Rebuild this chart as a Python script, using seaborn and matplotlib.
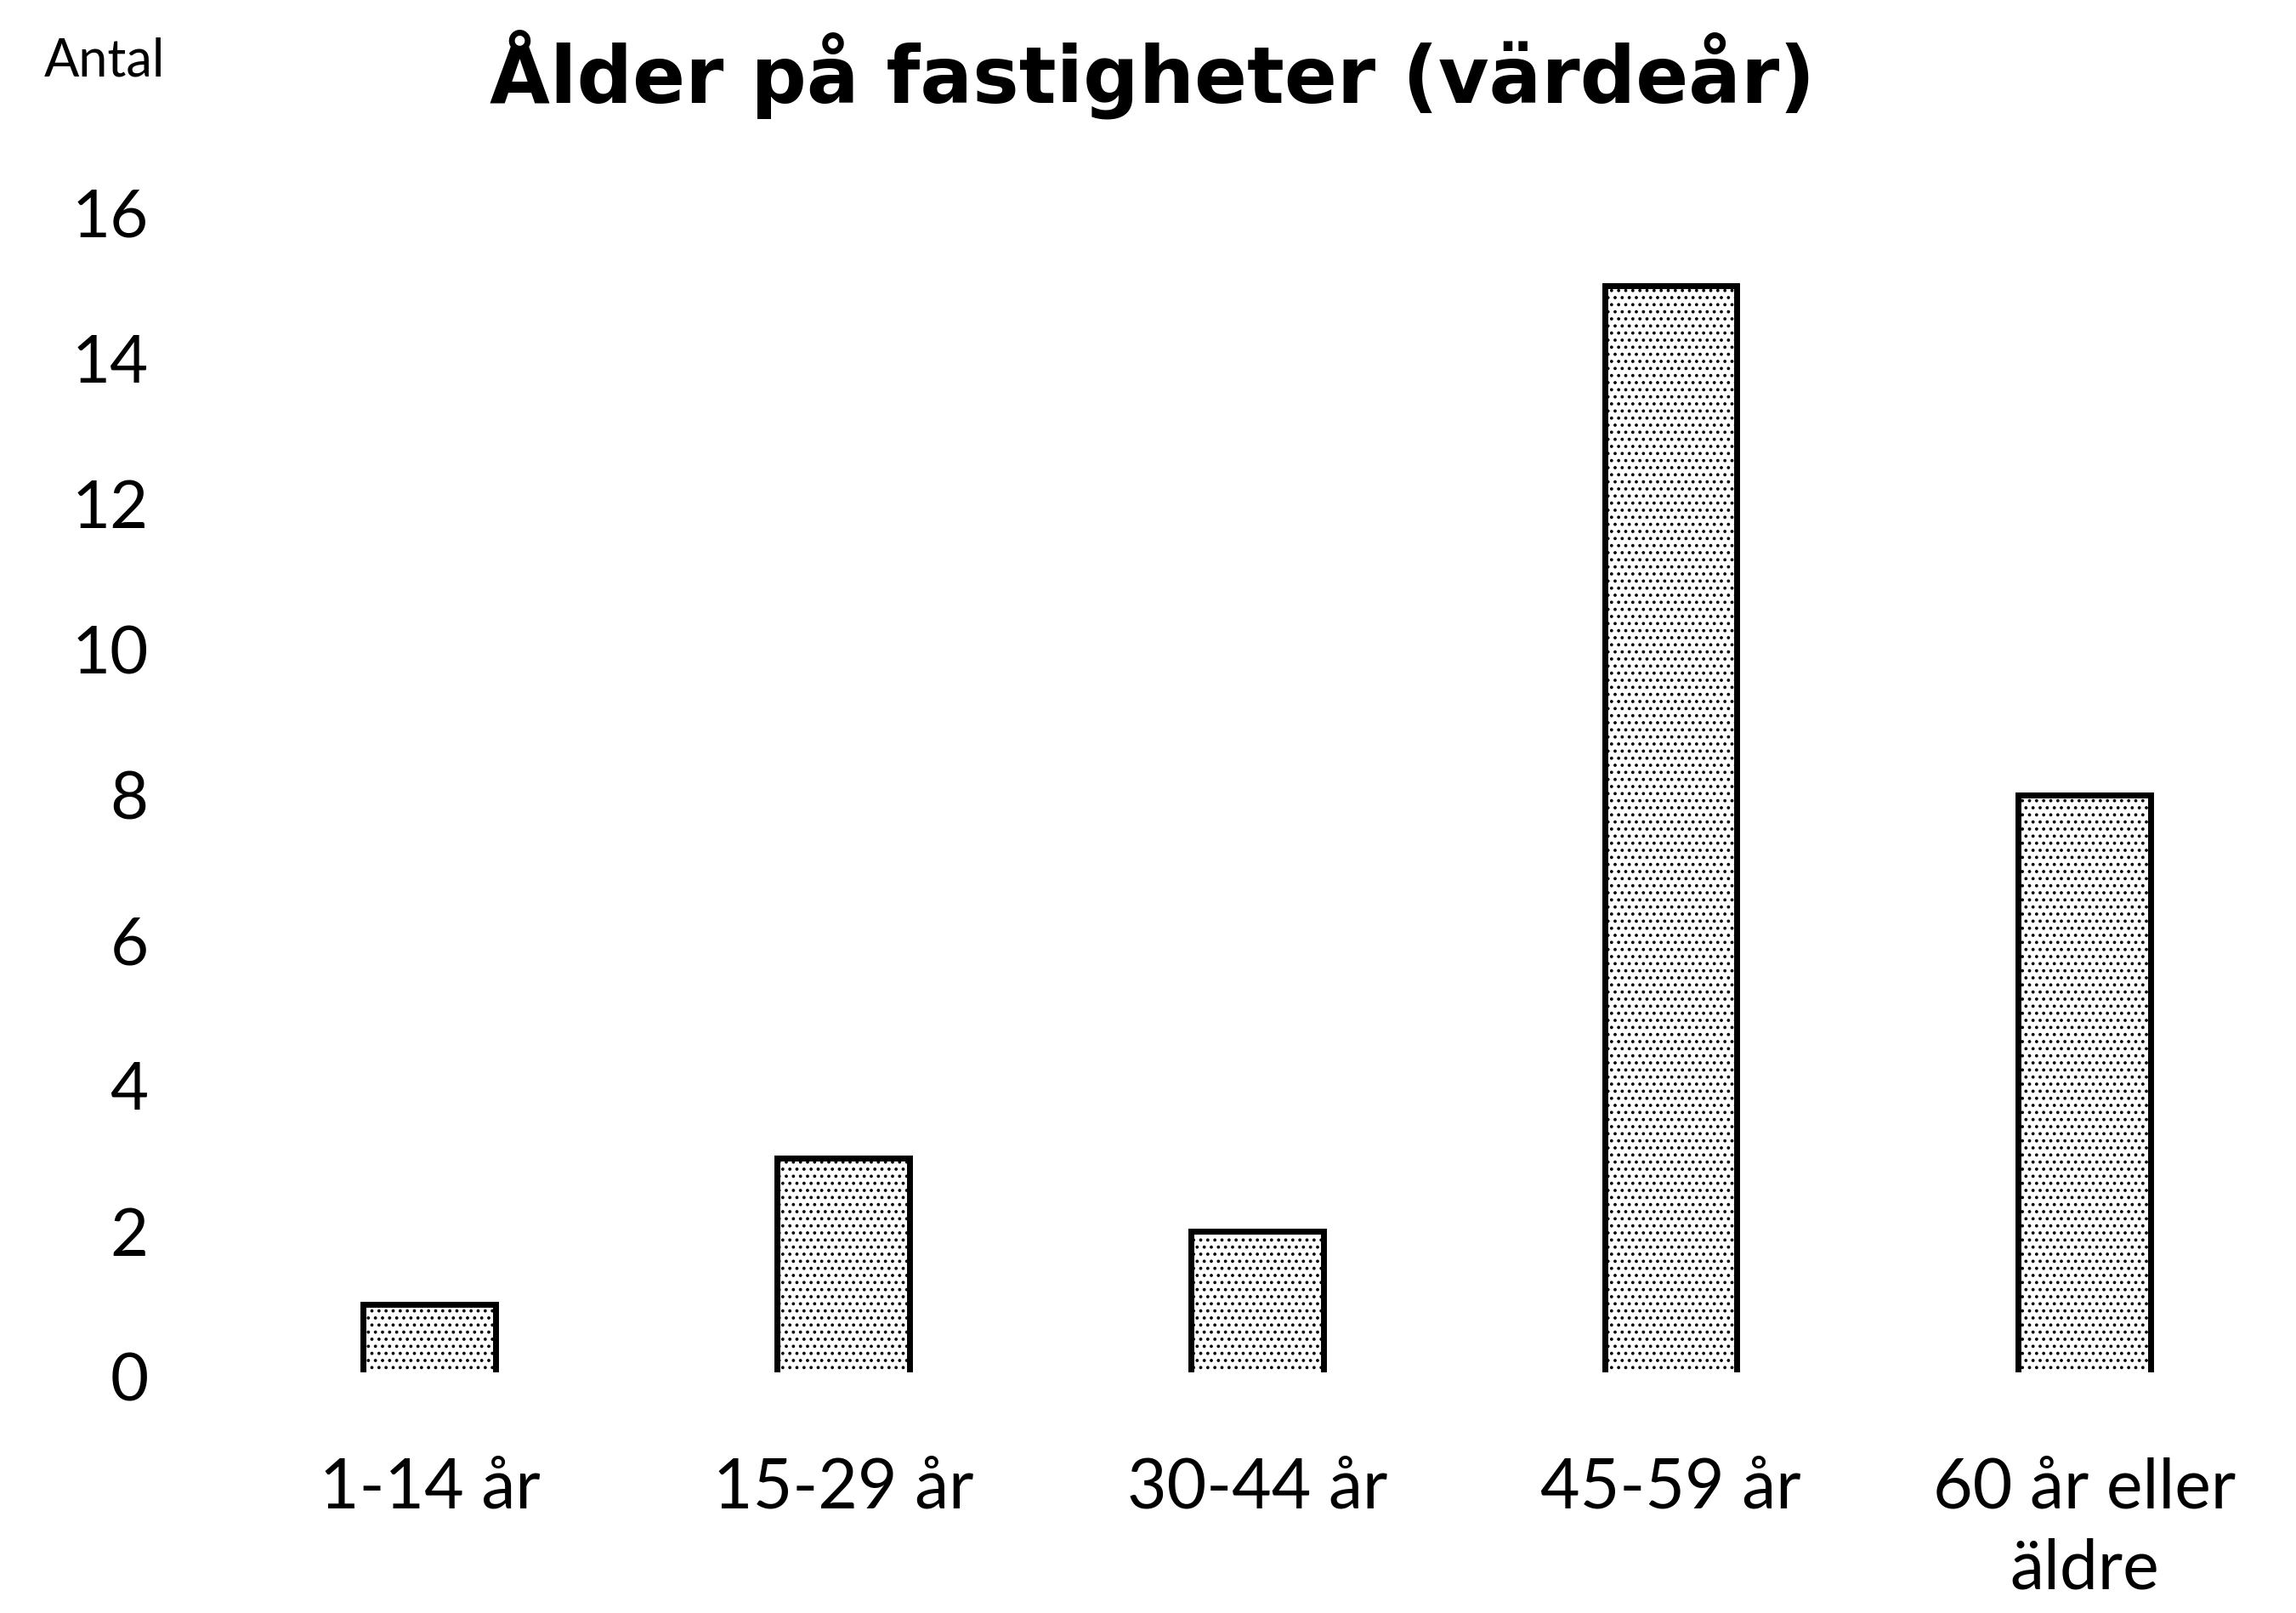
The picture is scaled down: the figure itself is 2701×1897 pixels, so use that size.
import pandas as pd
import matplotlib
matplotlib.use('Agg')
import matplotlib.pyplot as plt
import seaborn as sns

# Data
categories = ['1-14 år', '15-29 år', '30-44 år', '45-59 år', '60 år eller\näldre']
counts = [1, 3, 2, 15, 8]
yticks = [0, 2, 4, 6, 8, 10, 12, 14, 16]

df = pd.DataFrame({'kategori': categories, 'antal': counts})

sns.set_style('white')
plt.rcParams['font.family'] = ['Lato', 'DejaVu Sans']
plt.rcParams['text.color'] = 'black'
plt.rcParams['xtick.color'] = 'black'
plt.rcParams['ytick.color'] = 'black'
plt.rcParams['hatch.color'] = '#d6d6d6'
plt.rcParams['hatch.linewidth'] = 1.5

fig = plt.figure(figsize=(27.01, 18.97), dpi=100)
ax = fig.add_axes([0.097, 0.1465, 0.901, 0.7215])

sns.barplot(data=df, x='kategori', y='antal', color='white', width=0.32,
            edgecolor='black', linewidth=5, ax=ax)
for bar in ax.patches:
    bar.set_hatch('..')
    bar.set_edgecolor('black')

# open bottom of the bars like in the original
ax.axhline(0, color='white', lw=8, zorder=5)

ax.set_ylim(0, 16)
ax.set_xlim(-0.5, 4.5)
ax.set_yticks(yticks)
ax.set_yticklabels([str(v) for v in yticks])
ax.tick_params(axis='y', length=0, pad=63, labelsize=56)
ax.tick_params(axis='x', length=0, pad=68, labelsize=58)
for lbl in ax.get_xticklabels():
    lbl.set_linespacing(1.35)
ax.set_xlabel('')
ax.set_ylabel('')
sns.despine(ax=ax, left=True, bottom=True)

fig.text(0.019, 0.962, 'Antal', fontsize=44, ha='left', va='center')
fig.text(0.502, 0.954, 'Ålder på fastigheter (värdeår)', fontsize=66,
         fontweight='bold', ha='center', va='center', family=['DejaVu Sans'])

fig.savefig('out.png', dpi=100)
